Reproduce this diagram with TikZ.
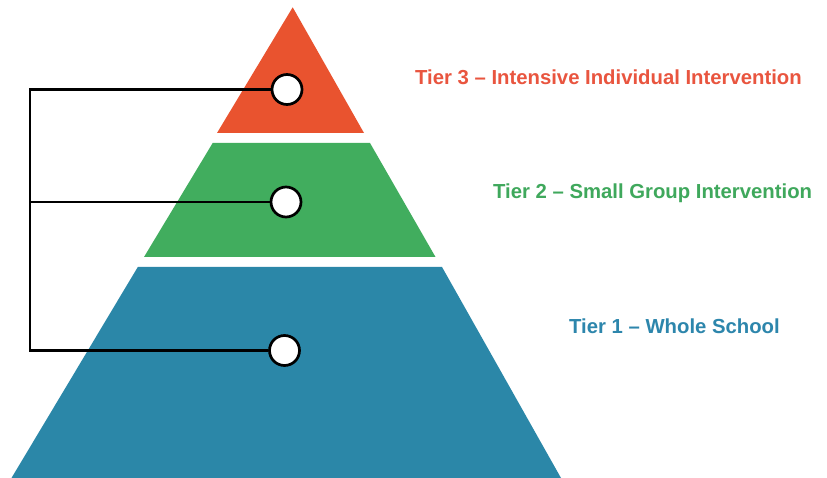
\documentclass[tikz,border=0pt]{standalone}
\usepackage{fontspec}
\setmainfont{Liberation Sans}
\definecolor{tierred}{HTML}{E9532F}
\definecolor{tiergreen}{HTML}{41AD5E}
\definecolor{tierblue}{HTML}{2B87A8}
\definecolor{txtred}{HTML}{E9553F}
\definecolor{txtgreen}{HTML}{3FA85C}
\definecolor{txtblue}{HTML}{2D86AC}
\begin{document}
\begin{tikzpicture}[x=1pt,y=-1pt,
  dot/.style={circle,draw=black,fill=white,line width=2.7pt,minimum size=30pt,inner sep=0pt},
  bracket/.style={draw=black,line width=2.6pt},
  label/.style={anchor=base west,inner sep=0pt,font=\fontsize{20.3}{24}\selectfont\bfseries}]
\useasboundingbox[fill=white] (0,0) rectangle (827,478);
% tiers
\fill[tierred] (292.7,7.3) -- (364,133) -- (217,133) -- cycle;
\fill[tiergreen] (212.7,143) -- (370,143) -- (435.5,257) -- (144,257) -- cycle;
\fill[tierblue] (137.8,267) -- (442,267) -- (561,478) -- (11.5,478) -- cycle;
% circles
\node[dot] (n3) at (287,89.5) {};
\node[dot] (n2) at (286,202) {};
\node[dot] (n1) at (284.5,350.5) {};
% bracket
\coordinate (k3) at (30,89.5);
\coordinate (k2) at (30,202);
\coordinate (k1) at (30,350.5);
\draw[bracket,line join=miter] (n3.west) -- (k3) -- (k1) -- (n1.west);
\draw[bracket] (k2) -- (n2.west);
% labels
\node[label,text=txtred] (t3) at (415,85) {Tier 3 – Intensive Individual Intervention};
\node[label,text=txtgreen] (t2) at (493,198.3) {Tier 2 – Small Group Intervention};
\node[label,text=txtblue] (t1) at (569,333) {Tier 1 – Whole School};
\end{tikzpicture}
\end{document}
